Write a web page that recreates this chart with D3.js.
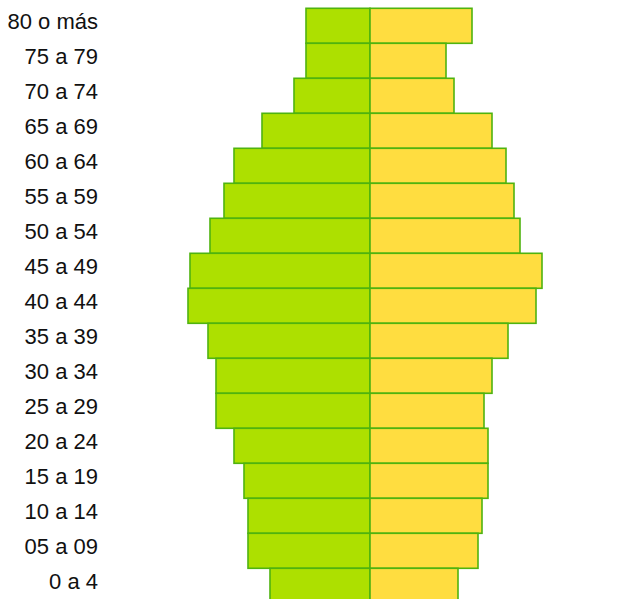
<!DOCTYPE html>
<html>
<head>
<meta charset="utf-8">
<script src="https://cdn.jsdelivr.net/npm/d3@7"></script>
<style>
  html, body { margin: 0; padding: 0; background: #fff; }
  svg { display: block; }
</style>
</head>
<body>
<script>
const categories = ["80 o más","75 a 79","70 a 74","65 a 69","60 a 64","55 a 59","50 a 54","45 a 49","40 a 44","35 a 39","30 a 34","25 a 29","20 a 24","15 a 19","10 a 14","05 a 09","0 a 4"];
const hombres = [3.2, 3.2, 3.8, 5.4, 6.8, 7.3, 8.0, 9.0, 9.1, 8.1, 7.7, 7.7, 6.8, 6.3, 6.1, 6.1, 5.0];
const mujeres = [5.1, 3.8, 4.2, 6.1, 6.8, 7.2, 7.5, 8.6, 8.3, 6.9, 6.1, 5.7, 5.9, 5.9, 5.6, 5.4, 4.4];

const W = 633, H = 599;
const svg = d3.select("body").append("svg").attr("width", W).attr("height", H);

const x = d3.scaleLinear().domain([-10, 10]).range([170, 570]);
const y = d3.scaleBand().domain(categories).range([8.3, 603.3]).padding(0);

const stroke = "#4fb30f";

svg.append("g").selectAll("rect")
  .data(categories)
  .join("rect")
  .attr("x", (d, i) => x(-hombres[i]))
  .attr("y", d => y(d))
  .attr("width", (d, i) => x(0) - x(-hombres[i]))
  .attr("height", y.bandwidth())
  .attr("fill", "#ade000")
  .attr("stroke", stroke)
  .attr("stroke-width", 1.6);

svg.append("g").selectAll("rect")
  .data(categories)
  .join("rect")
  .attr("x", x(0))
  .attr("y", d => y(d))
  .attr("width", (d, i) => x(mujeres[i]) - x(0))
  .attr("height", y.bandwidth())
  .attr("fill", "#ffdd40")
  .attr("stroke", stroke)
  .attr("stroke-width", 1.6);

const axis = d3.axisLeft(y).tickSize(0).tickPadding(0);
const g = svg.append("g").attr("transform", "translate(98,0)").call(axis);
g.select(".domain").remove();
g.selectAll("text")
  .attr("font-family", "Liberation Sans, Arial, sans-serif")
  .attr("font-size", 22)
  .attr("fill", "#111")
  .attr("dy", "0.13em");
</script>
</body>
</html>
